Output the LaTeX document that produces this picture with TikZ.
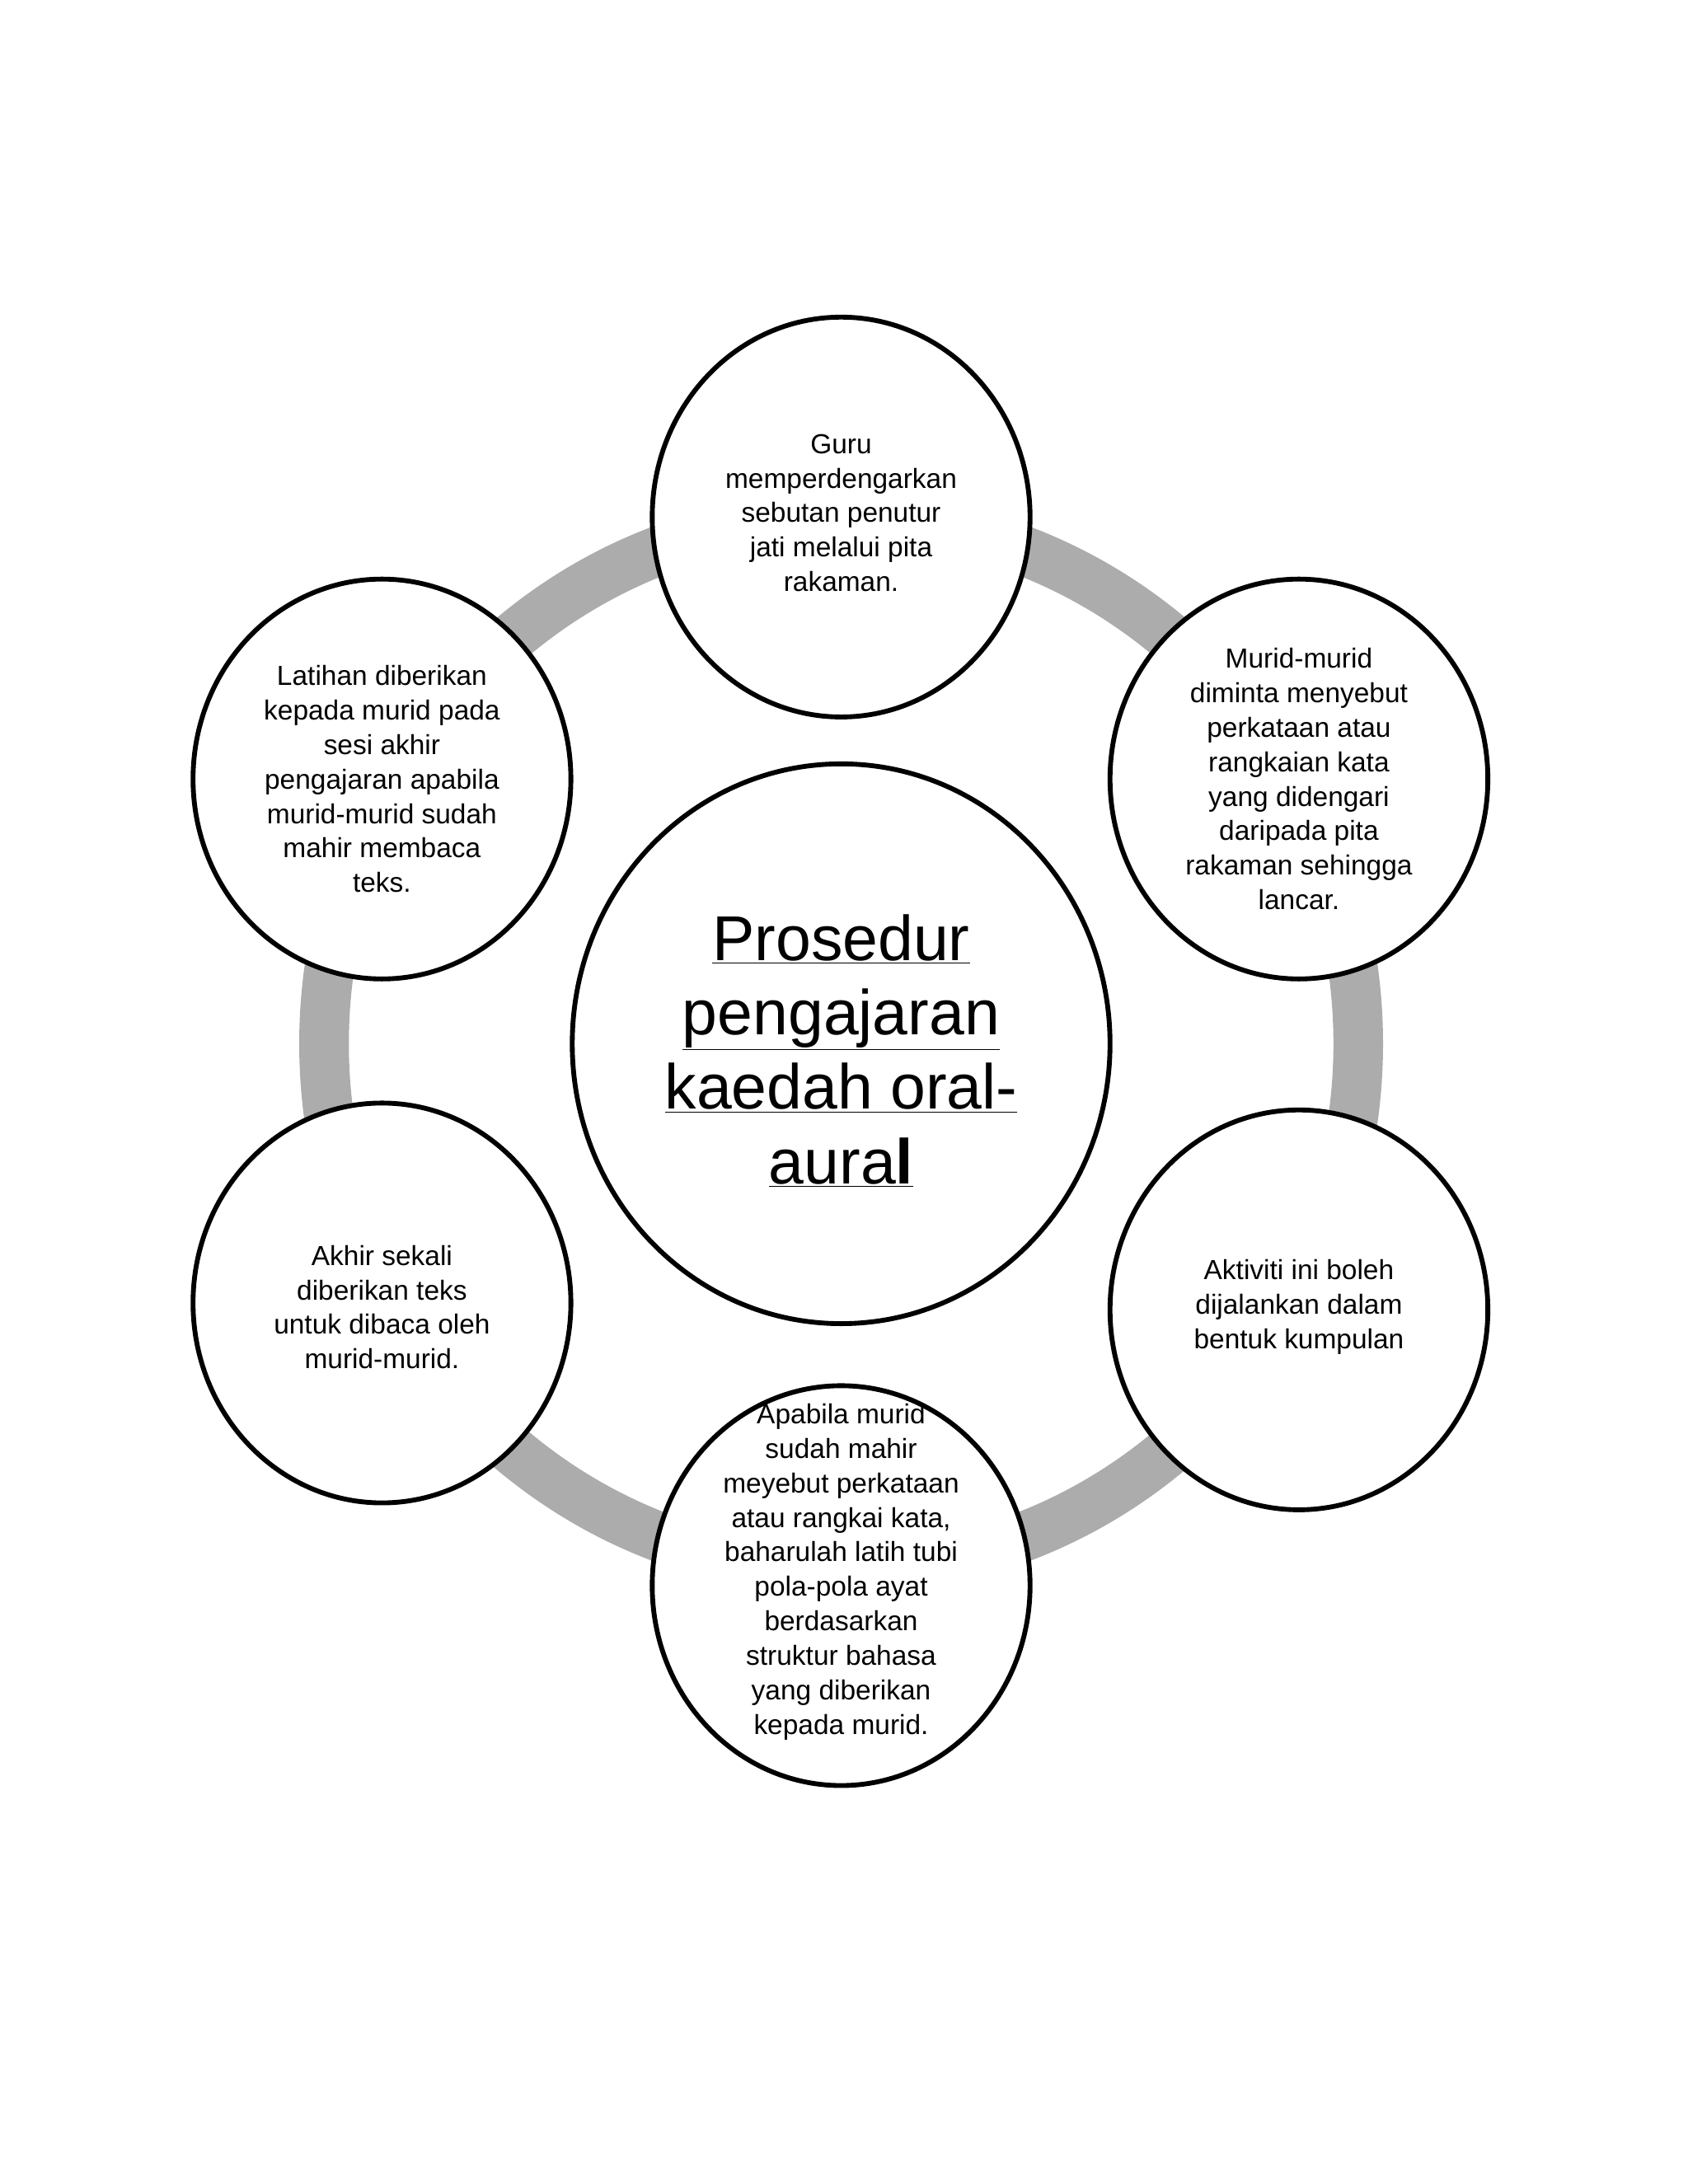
\documentclass[tikz,border=0pt]{standalone}
\usepackage{fontspec}
\setmainfont{Liberation Sans}
\begin{document}
\begin{tikzpicture}[x=1pt,y=-1pt,
  bub/.style={draw=black,line width=3.5pt,fill=white},
  txt/.style={align=center,font=\fontsize{20}{25}\selectfont}]
\useasboundingbox (0,0) rectangle (1224,1584);
\draw[line width=36pt,gray!65] (610,757) ellipse [x radius=375,y radius=382];
\draw[bub] (610,757) ellipse [x radius=195,y radius=203];
\draw[bub] (610,375) ellipse [x radius=137,y radius=145];
\draw[bub] (942,565) ellipse [x radius=137,y radius=145];
\draw[bub] (942,950) ellipse [x radius=137,y radius=145];
\draw[bub] (610,1150) ellipse [x radius=137,y radius=145];
\draw[bub] (277,945) ellipse [x radius=137,y radius=145];
\draw[bub] (277,565) ellipse [x radius=137,y radius=145];
\node[align=center,font=\fontsize{46}{54}\selectfont] (c) at (610,762)
 {\underline{Prosedur}\\\underline{pengajaran}\\\underline{kaedah oral-}\\\underline{aura\textbf{l}}};
\node[txt] (t1) at (610,372) {Guru\\memperdengarkan\\sebutan penutur\\jati melalui pita\\rakaman.};
\node[txt] (t2) at (942,565) {Murid-murid\\diminta menyebut\\perkataan atau\\rangkaian kata\\yang didengari\\daripada pita\\rakaman sehingga\\lancar.};
\node[txt] (t3) at (942,948) {Aktiviti ini boleh\\dijalankan dalam\\bentuk kumpulan};
\node[txt] (t4) at (610,1140) {Apabila murid\\sudah mahir\\meyebut perkataan\\atau rangkai kata,\\baharulah latih tubi\\pola-pola ayat\\berdasarkan\\struktur bahasa\\yang diberikan\\kepada murid.};
\node[txt] (t5) at (277,948) {Akhir sekali\\diberikan teks\\untuk dibaca oleh\\murid-murid.};
\node[txt] (t6) at (277,565) {Latihan diberikan\\kepada murid pada\\sesi akhir\\pengajaran apabila\\murid-murid sudah\\mahir membaca\\teks.};
\end{tikzpicture}
\end{document}
